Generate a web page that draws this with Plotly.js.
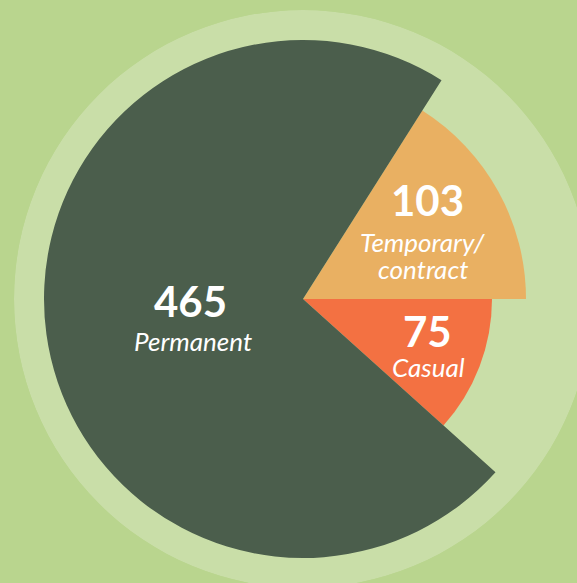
<!DOCTYPE html>
<html>
<head>
<meta charset="utf-8">
<script src="https://cdn.plot.ly/plotly-3.0.1.min.js"></script>
<style>
  html, body { margin: 0; padding: 0; width: 577px; height: 583px; overflow: hidden; background: #b9d58e; }
  #chart { position: absolute; left: 14px; top: 10px; width: 578px; height: 578px; }
</style>
</head>
<body>
<div id="chart"></div>
<script>
// Data
const categories = ["Casual", "Temporary/contract", "Permanent"];
const values = [75, 103, 465];
const labelLines = [["Casual"], ["Temporary/", "contract"], ["Permanent"]];

// Style / geometry (not data)
const colors = ["#f37142", "#e9b062", "#4b5e4c"];
const radii = [189, 223, 259];
const outerRadius = 289;
const W = 578, H = 578, LEFT = 14, TOP = 10;

const total = values.reduce((a, b) => a + b, 0);
const widths = values.map(v => v / total * 360);
let start = -widths[0];
const thetas = widths.map(w => { const c = start + w / 2; start += w; return c; });

const bg = {
  type: "barpolar",
  r: [outerRadius], theta: [0], width: [360],
  marker: { color: "#c9dea8", line: { width: 0 } },
  hoverinfo: "skip", showlegend: false
};
const bars = {
  type: "barpolar",
  r: radii, theta: thetas, width: widths,
  text: categories,
  marker: { color: colors, line: { width: 0 } },
  showlegend: false
};

function px(x, y) { return { x: (x - LEFT) / W, y: 1 - (y - TOP) / H }; }
const font = "Lato, 'Open Sans', sans-serif";
// label positions in pixel space (layout)
const numPos = [[427, 331], [427, 200], [191, 301]];
const namePos = [[[428, 367]], [[423, 242], [423, 269]], [[193, 341]]];

const annotations = [];
values.forEach((v, i) => {
  const p = px(numPos[i][0], numPos[i][1]);
  annotations.push({ xref: "paper", yref: "paper", x: p.x, y: p.y, text: "<b>" + v + "</b>",
    showarrow: false, xanchor: "center", yanchor: "middle",
    font: { family: font, size: 42, color: "#ffffff" } });
  labelLines[i].forEach((t, j) => {
    const q = px(namePos[i][j][0], namePos[i][j][1]);
    annotations.push({ xref: "paper", yref: "paper", x: q.x, y: q.y, text: "<i>" + t + "</i>",
      showarrow: false, xanchor: "center", yanchor: "middle",
      font: { family: font, size: 26, color: "#ffffff" } });
  });
});

const layout = {
  width: W, height: H,
  margin: { l: 0, r: 0, t: 0, b: 0 },
  paper_bgcolor: "rgba(0,0,0,0)",
  plot_bgcolor: "rgba(0,0,0,0)",
  showlegend: false,
  polar: {
    domain: { x: [0, 1], y: [0, 1] },
    bgcolor: "rgba(0,0,0,0)",
    bargap: 0,
    radialaxis: { visible: false, range: [0, outerRadius], showgrid: false },
    angularaxis: { visible: false, rotation: 0, direction: "counterclockwise", showgrid: false }
  },
  annotations: annotations
};

Plotly.newPlot("chart", [bg, bars], layout, { displayModeBar: false, staticPlot: true });
</script>
</body>
</html>
